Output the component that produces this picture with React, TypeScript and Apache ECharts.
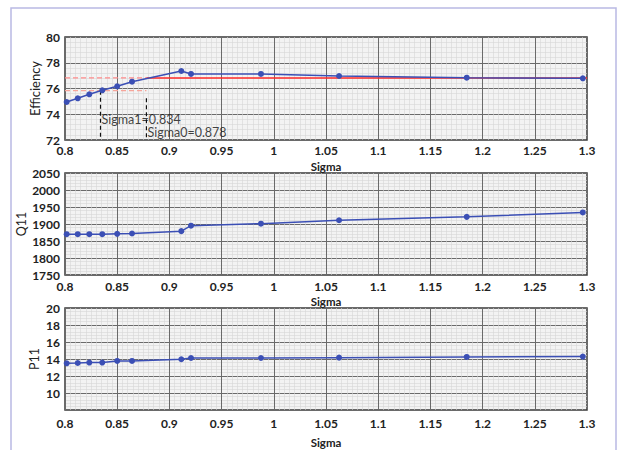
import React, { useEffect, useRef } from "react";
import * as echarts from "echarts";

const sigma = [0.8016, 0.8122, 0.8233, 0.8357, 0.85, 0.8642, 0.9114, 0.9207, 0.9877, 1.0625, 1.1848, 1.296];
const efficiency = [74.95, 75.24, 75.55, 75.86, 76.17, 76.53, 77.36, 77.13, 77.13, 76.97, 76.84, 76.79];
const q11 = [1870, 1870, 1870, 1870, 1871, 1872, 1879, 1895, 1901, 1911, 1921, 1934];
const p11 = [13.49, 13.53, 13.58, 13.58, 13.77, 13.77, 13.97, 14.12, 14.12, 14.16, 14.24, 14.28];

const effRef = 76.82;
const effRefLow = 75.83;
const sigma1 = 0.834;
const sigma0 = 0.878;
const sigma0Top = 75.25;
const xTicks = { min: 0.8, max: 1.3, interval: 0.05 };

const FONT = "Lato";
const BLUE = "#3b4fb5";

export default function App() {
  const ref = useRef<HTMLDivElement>(null);
  useEffect(() => {
    if (!ref.current) return;
    const chart = echarts.init(ref.current, null, { renderer: "svg" });
    const gridBase = { left: 65, width: 522, height: 103, show: true, backgroundColor: "#f3f3f3", borderColor: "#3a3a3a", borderWidth: 1.5 };
    const grids = [
      { ...gridBase, top: 37 },
      { ...gridBase, top: 173, height: 102 },
      { ...gridBase, top: 308, height: 102 },
    ];
    const xAxisBase = (gi: number, labelMargin: number, nameGap: number) => ({
      type: "value",
      gridIndex: gi,
      min: xTicks.min,
      max: xTicks.max,
      interval: xTicks.interval,
      name: "Sigma",
      nameLocation: "middle",
      nameGap,
      nameMoveOverlap: false,
      nameTextStyle: { fontFamily: FONT, fontWeight: "bold", fontSize: 11.5, lineHeight: 12, color: "#222" },
      axisLine: { show: false },
      axisTick: { show: false },
      axisLabel: {
        margin: labelMargin,
        fontFamily: FONT,
        fontWeight: "bold",
        fontSize: 12,
        lineHeight: 12,
        color: "#222",
        formatter: (v: number) => String(parseFloat(v.toFixed(2))),
      },
      splitLine: { show: true, lineStyle: { color: "#6a6a6a", width: 1 } },
      minorTick: { show: false, splitNumber: 10 },
      minorSplitLine: { show: true, lineStyle: { color: "#d6d6d6", width: 0.6 } },
    });
    const yAxisBase = (gi: number, min: number, max: number, interval: number, name: string, nameGap: number, nameSize: number, hideMin = false) => ({
      type: "value",
      gridIndex: gi,
      min,
      max,
      interval,
      name,
      nameLocation: "middle",
      nameGap,
      nameMoveOverlap: false,
      nameTextStyle: { fontFamily: FONT, fontSize: nameSize, color: "#222" },
      axisLine: { show: false },
      axisTick: { show: false },
      axisLabel: {
        margin: 5,
        fontFamily: FONT,
        fontWeight: "bold",
        fontSize: 12,
        color: "#222",
        formatter: (v: number) => (hideMin && v === min ? "" : String(v)),
      },
      splitLine: { show: true, lineStyle: { color: "#6a6a6a", width: 1 } },
      minorTick: { show: false, splitNumber: 5 },
      minorSplitLine: { show: true, lineStyle: { color: "#d6d6d6", width: 0.6 } },
    });
    const pts = (ys: number[]) => sigma.map((s, i) => [s, ys[i]]);
    const dataSeries = (gi: number, ys: number[]) => ({
      type: "line",
      xAxisIndex: gi,
      yAxisIndex: gi,
      data: pts(ys),
      symbol: "circle",
      symbolSize: 6,
      lineStyle: { color: BLUE, width: 1.5 },
      itemStyle: { color: BLUE },
      z: 5,
    });
    const refLine = (data: number[][], color: string, type: any, width = 1.2) => ({
      type: "line",
      xAxisIndex: 0,
      yAxisIndex: 0,
      data,
      symbol: "none",
      lineStyle: { color, type, width },
      z: 3,
    });
    const textPoint = (x: number, y: number, text: string) => ({
      type: "scatter",
      xAxisIndex: 0,
      yAxisIndex: 0,
      data: [[x, y]],
      symbolSize: 0,
      z: 6,
      label: {
        show: true,
        position: "right",
        distance: 1,
        formatter: text,
        fontFamily: FONT,
        fontSize: 12.5,
        color: "#111",
      },
    });
    chart.setOption({
      animation: false,
      backgroundColor: "#ffffff",
      grid: grids,
      xAxis: [xAxisBase(0, 4, 20), xAxisBase(1, 5, 20), xAxisBase(2, 7, 26)],
      yAxis: [
        yAxisBase(0, 72, 80, 2, "Efficiency", 24, 13),
        yAxisBase(1, 1750, 2050, 50, "Q11", 37, 12.5),
        yAxisBase(2, 8, 20, 2, "P11", 24, 12.5, true),
      ],
      graphic: [
        {
          type: "rect",
          shape: { x: 11, y: 8, width: 605, height: 460 },
          style: { fill: "none", stroke: "#b9b9e4", lineWidth: 1.5 },
          silent: true,
        },
      ],
      series: [
        refLine([[xTicks.min, effRef], [sigma0, effRef]], "#ff8c8c", [5, 3]),
        refLine([[sigma0, effRef], [xTicks.max, effRef]], "#ff2a2a", "solid", 1.5),
        refLine([[xTicks.min, effRefLow], [sigma0, effRefLow]], "#f6a59a", [5, 3]),
        refLine([[sigma1, effRefLow], [sigma1, 72]], "#111", [4, 3], 1.2),
        refLine([[sigma0, sigma0Top], [sigma0, 72]], "#111", [4, 3], 1.2),
        textPoint(sigma1, 73.63, "Sigma1=0.834"),
        textPoint(sigma0, 72.57, "Sigma0=0.878"),
        dataSeries(0, efficiency),
        dataSeries(1, q11),
        dataSeries(2, p11),
      ],
    });
    return () => chart.dispose();
  }, []);
  return <div ref={ref} style={{ position: "fixed", left: 0, top: 0, width: 621, height: 450 }} />;
}
